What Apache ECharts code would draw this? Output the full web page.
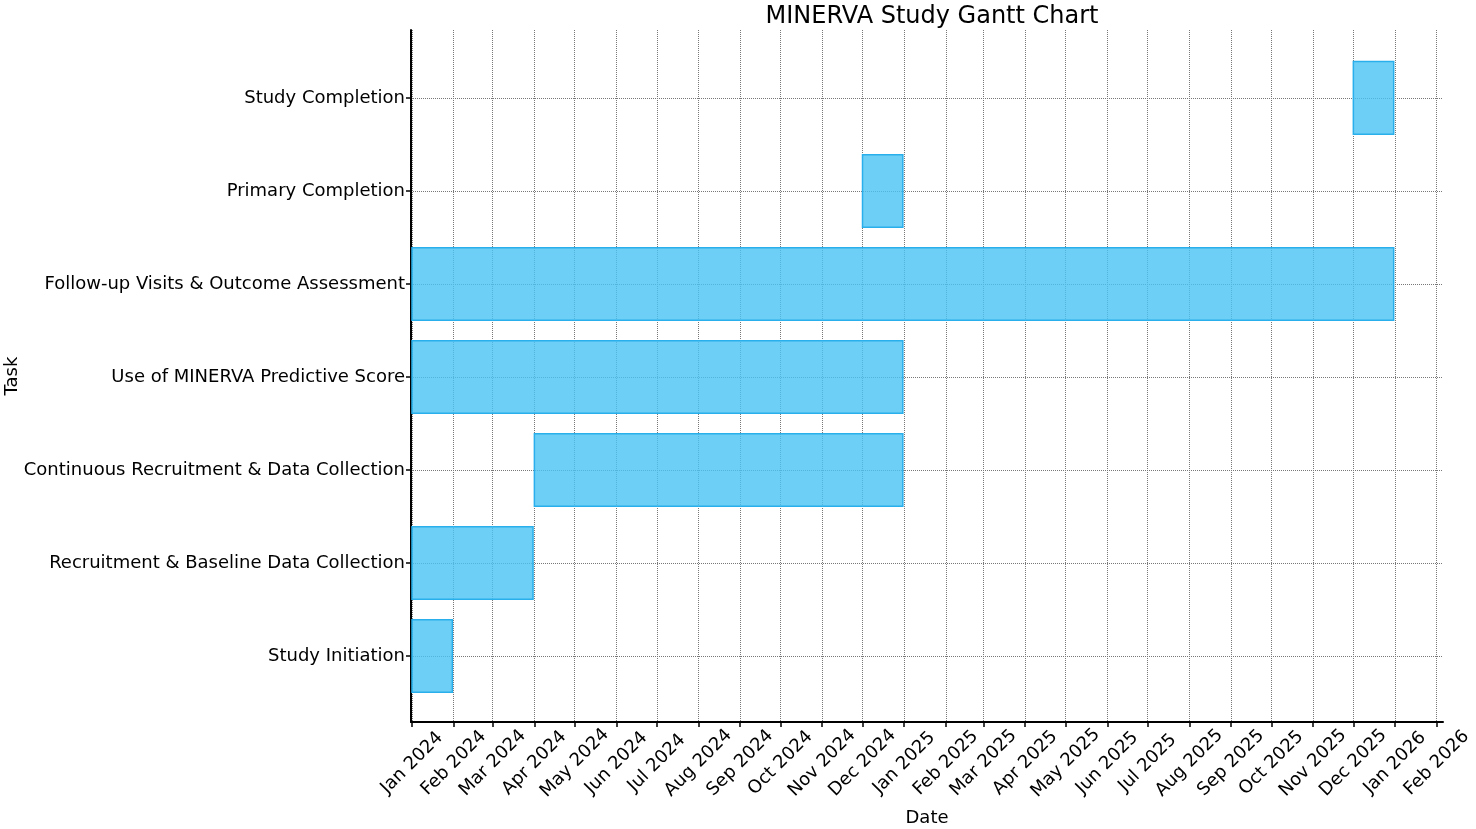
<!DOCTYPE html>
<html>
<head>
<meta charset="utf-8">
<title>MINERVA Study Gantt Chart</title>
<script src="https://cdn.jsdelivr.net/npm/echarts@6/dist/echarts.min.js"></script>
<style>
  html, body { margin: 0; padding: 0; background: #fff; }
  #chart { width: 1476px; height: 829px; }
</style>
</head>
<body>
<div id="chart"></div>
<script>
// tasks, bottom to top (like matplotlib barh)
var tasks = [
    'Study Initiation',
    'Recruitment & Baseline Data Collection',
    'Continuous Recruitment & Data Collection',
    'Use of MINERVA Predictive Score',
    'Follow-up Visits & Outcome Assessment',
    'Primary Completion',
    'Study Completion'
];
var startDates = ['2024-01-01', '2024-01-01', '2024-04-01', '2024-01-01', '2024-01-01', '2024-12-01', '2025-12-01'];
var endDates   = ['2024-01-31', '2024-03-31', '2024-12-31', '2024-12-31', '2025-12-31', '2024-12-31', '2025-12-31'];

// monthly ticks on the date axis
var tickDates = [
    '2024-01-01', '2024-02-01', '2024-03-01', '2024-04-01', '2024-05-01', '2024-06-01',
    '2024-07-01', '2024-08-01', '2024-09-01', '2024-10-01', '2024-11-01', '2024-12-01',
    '2025-01-01', '2025-02-01', '2025-03-01', '2025-04-01', '2025-05-01', '2025-06-01',
    '2025-07-01', '2025-08-01', '2025-09-01', '2025-10-01', '2025-11-01', '2025-12-01',
    '2026-01-01', '2026-02-01'
];
var monthNames = ['Jan', 'Feb', 'Mar', 'Apr', 'May', 'Jun', 'Jul', 'Aug', 'Sep', 'Oct', 'Nov', 'Dec'];

function toTime(s) {
    var p = s.split('-');
    return new Date(+p[0], +p[1] - 1, +p[2]).getTime();
}

var ganttData = [];
for (var i = 0; i < tasks.length; i++) {
    ganttData.push([i, toTime(startDates[i]), toTime(endDates[i])]);
}
var tickValues = tickDates.map(toTime);
var taskIdx = tasks.map(function (t, i) { return i; });

var FONT = 'DejaVu Sans';
var gridLine = { show: true, lineStyle: { color: '#777', type: 'dotted', width: 1 } };

var chart = echarts.init(document.getElementById('chart'));
chart.setOption({
    animation: false,
    title: {
        text: 'MINERVA Study Gantt Chart',
        left: 927,
        top: 0,
        textAlign: 'center',
        textStyle: { fontFamily: FONT, fontSize: 24, fontWeight: 'normal', color: '#000' }
    },
    grid: { left: 411, right: 33, top: 30, bottom: 107, outerBoundsMode: 'none', containLabel: false },
    xAxis: {
        type: 'value',
        scale: true,
        min: new Date(2023, 11, 31, 6).getTime(),
        max: new Date(2026, 1, 5, 16).getTime(),
        name: 'Date',
        nameLocation: 'middle',
        nameGap: 87,
        nameMoveOverlap: false,
        nameTextStyle: { fontFamily: FONT, fontSize: 18, color: '#000' },
        axisLine: { show: true, onZero: false, lineStyle: { color: '#000', width: 2 } },
        axisTick: { show: true, length: 5, inside: false, customValues: tickValues,
                    lineStyle: { color: '#000', width: 1.5 } },
        axisLabel: {
            customValues: tickValues,
            rotate: 45,
            align: 'center',
            verticalAlign: 'middle',
            margin: 41,
            fontFamily: FONT,
            fontSize: 18,
            color: '#000',
            formatter: function (v) {
                var d = new Date(v);
                return monthNames[d.getMonth()] + ' ' + d.getFullYear();
            }
        },
        splitLine: gridLine
    },
    yAxis: {
        type: 'value',
        min: -0.71,
        max: 6.73,
        name: 'Task',
        nameLocation: 'middle',
        nameGap: 390,
        nameMoveOverlap: false,
        nameRotate: 90,
        nameTextStyle: { fontFamily: FONT, fontSize: 18, color: '#000' },
        axisLine: { show: true, onZero: false, lineStyle: { color: '#000', width: 2 } },
        axisTick: { show: true, length: 5, inside: false, customValues: taskIdx,
                    lineStyle: { color: '#000', width: 1.5 } },
        axisLabel: {
            customValues: taskIdx,
            margin: 6,
            fontFamily: FONT,
            fontSize: 18,
            color: '#000',
            formatter: function (v) { return tasks[Math.round(v)]; }
        },
        splitLine: gridLine
    },
    series: [{
        type: 'custom',
        encode: { x: [1, 2], y: 0 },
        renderItem: function (params, api) {
            var idx = api.value(0);
            var p1 = api.coord([api.value(1), idx + 0.39]);
            var p2 = api.coord([api.value(2), idx - 0.39]);
            return {
                type: 'rect',
                shape: { x: p1[0], y: p1[1], width: p2[0] - p1[0], height: p2[1] - p1[1] },
                style: { fill: 'rgba(72,195,243,0.8)', stroke: '#29b0ec', lineWidth: 1.5 }
            };
        },
        data: ganttData
    }]
});
</script>
</body>
</html>
